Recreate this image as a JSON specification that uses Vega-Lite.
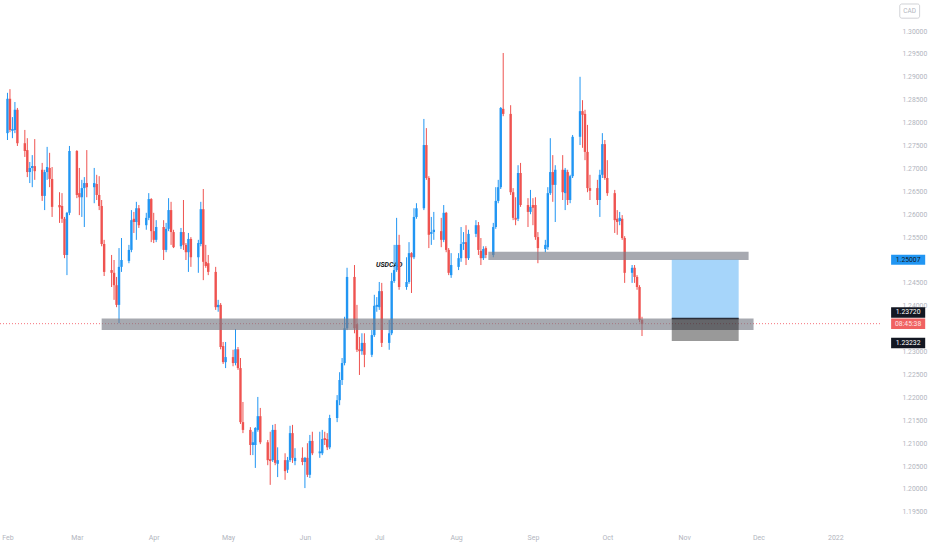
{
  "$schema": "https://vega.github.io/schema/vega-lite/v6.json",
  "description": "USDCAD daily candles, Feb-Oct 2021, with zones and a position box.",
  "width": 880,
  "height": 520,
  "autosize": {"type": "none"},
  "padding": {"left": 0, "top": 0, "right": 52, "bottom": 30},
  "background": "#ffffff",
  "config": {
    "view": {"stroke": null},
    "font": "Roboto",
    "axis": {"labelOverlap": false, "labelFlush": false, "labelBound": false}
  },
  "resolve": {"axis": {"x": "independent", "y": "independent"}},
  "datasets": {
    "candles": [
      {"d":"2021-02-01","o":1.2777,"h":1.2865,"l":1.2762,"c":1.2852},
      {"d":"2021-02-02","o":1.2852,"h":1.2873,"l":1.2779,"c":1.2784},
      {"d":"2021-02-03","o":1.2782,"h":1.2812,"l":1.2766,"c":1.2786},
      {"d":"2021-02-04","o":1.2784,"h":1.2845,"l":1.2777,"c":1.2828},
      {"d":"2021-02-05","o":1.2828,"h":1.2832,"l":1.2749,"c":1.2755},
      {"d":"2021-02-08","o":1.2755,"h":1.2784,"l":1.2725,"c":1.2738},
      {"d":"2021-02-09","o":1.2740,"h":1.2766,"l":1.2681,"c":1.2692},
      {"d":"2021-02-10","o":1.2692,"h":1.2714,"l":1.2668,"c":1.2701},
      {"d":"2021-02-11","o":1.2701,"h":1.2729,"l":1.2659,"c":1.2705},
      {"d":"2021-02-12","o":1.2705,"h":1.2764,"l":1.2675,"c":1.2694},
      {"d":"2021-02-15","o":1.2697,"h":1.2712,"l":1.2629,"c":1.2640},
      {"d":"2021-02-16","o":1.2640,"h":1.2697,"l":1.2609,"c":1.2692},
      {"d":"2021-02-17","o":1.2692,"h":1.2747,"l":1.2675,"c":1.2703},
      {"d":"2021-02-18","o":1.2701,"h":1.2734,"l":1.2659,"c":1.2677},
      {"d":"2021-02-19","o":1.2677,"h":1.2703,"l":1.2594,"c":1.2616},
      {"d":"2021-02-22","o":1.2620,"h":1.2648,"l":1.2581,"c":1.2615},
      {"d":"2021-02-23","o":1.2618,"h":1.2646,"l":1.2581,"c":1.2590},
      {"d":"2021-02-24","o":1.2590,"h":1.2594,"l":1.2504,"c":1.2511},
      {"d":"2021-02-25","o":1.2511,"h":1.2605,"l":1.2467,"c":1.2603},
      {"d":"2021-02-26","o":1.2603,"h":1.2749,"l":1.2598,"c":1.2738},
      {"d":"2021-03-01","o":1.2738,"h":1.2740,"l":1.2635,"c":1.2642},
      {"d":"2021-03-02","o":1.2646,"h":1.2701,"l":1.2598,"c":1.2637},
      {"d":"2021-03-03","o":1.2637,"h":1.2675,"l":1.2594,"c":1.2657},
      {"d":"2021-03-04","o":1.2657,"h":1.2681,"l":1.2572,"c":1.2668},
      {"d":"2021-03-05","o":1.2668,"h":1.2740,"l":1.2637,"c":1.2659},
      {"d":"2021-03-08","o":1.2659,"h":1.2701,"l":1.2624,"c":1.2668},
      {"d":"2021-03-09","o":1.2666,"h":1.2686,"l":1.2631,"c":1.2642},
      {"d":"2021-03-10","o":1.2642,"h":1.2683,"l":1.2609,"c":1.2618},
      {"d":"2021-03-11","o":1.2618,"h":1.2631,"l":1.2530,"c":1.2535},
      {"d":"2021-03-12","o":1.2535,"h":1.2544,"l":1.2465,"c":1.2474},
      {"d":"2021-03-15","o":1.2478,"h":1.2511,"l":1.2441,"c":1.2472},
      {"d":"2021-03-16","o":1.2472,"h":1.2500,"l":1.2413,"c":1.2445},
      {"d":"2021-03-17","o":1.2445,"h":1.2463,"l":1.2397,"c":1.2402},
      {"d":"2021-03-18","o":1.2402,"h":1.2526,"l":1.2362,"c":1.2485},
      {"d":"2021-03-19","o":1.2485,"h":1.2548,"l":1.2474,"c":1.2500},
      {"d":"2021-03-22","o":1.2498,"h":1.2533,"l":1.2493,"c":1.2522},
      {"d":"2021-03-23","o":1.2522,"h":1.2609,"l":1.2517,"c":1.2587},
      {"d":"2021-03-24","o":1.2590,"h":1.2605,"l":1.2559,"c":1.2583},
      {"d":"2021-03-25","o":1.2583,"h":1.2627,"l":1.2544,"c":1.2613},
      {"d":"2021-03-26","o":1.2613,"h":1.2620,"l":1.2570,"c":1.2576},
      {"d":"2021-03-29","o":1.2576,"h":1.2603,"l":1.2566,"c":1.2592},
      {"d":"2021-03-30","o":1.2592,"h":1.2646,"l":1.2587,"c":1.2633},
      {"d":"2021-03-31","o":1.2633,"h":1.2635,"l":1.2539,"c":1.2563},
      {"d":"2021-04-01","o":1.2563,"h":1.2603,"l":1.2537,"c":1.2544},
      {"d":"2021-04-02","o":1.2544,"h":1.2587,"l":1.2539,"c":1.2572},
      {"d":"2021-04-05","o":1.2572,"h":1.2587,"l":1.2500,"c":1.2522},
      {"d":"2021-04-06","o":1.2522,"h":1.2581,"l":1.2517,"c":1.2568},
      {"d":"2021-04-07","o":1.2568,"h":1.2635,"l":1.2563,"c":1.2609},
      {"d":"2021-04-08","o":1.2609,"h":1.2627,"l":1.2533,"c":1.2561},
      {"d":"2021-04-09","o":1.2561,"h":1.2566,"l":1.2526,"c":1.2528},
      {"d":"2021-04-12","o":1.2530,"h":1.2570,"l":1.2524,"c":1.2561},
      {"d":"2021-04-13","o":1.2561,"h":1.2631,"l":1.2522,"c":1.2533},
      {"d":"2021-04-14","o":1.2533,"h":1.2537,"l":1.2500,"c":1.2517},
      {"d":"2021-04-15","o":1.2517,"h":1.2559,"l":1.2474,"c":1.2546},
      {"d":"2021-04-16","o":1.2546,"h":1.2550,"l":1.2485,"c":1.2506},
      {"d":"2021-04-19","o":1.2506,"h":1.2544,"l":1.2472,"c":1.2537},
      {"d":"2021-04-20","o":1.2535,"h":1.2627,"l":1.2530,"c":1.2611},
      {"d":"2021-04-21","o":1.2611,"h":1.2655,"l":1.2456,"c":1.2496},
      {"d":"2021-04-22","o":1.2496,"h":1.2533,"l":1.2483,"c":1.2487},
      {"d":"2021-04-23","o":1.2493,"h":1.2511,"l":1.2467,"c":1.2474},
      {"d":"2021-04-26","o":1.2474,"h":1.2485,"l":1.2391,"c":1.2397},
      {"d":"2021-04-27","o":1.2397,"h":1.2413,"l":1.2387,"c":1.2402},
      {"d":"2021-04-28","o":1.2402,"h":1.2406,"l":1.2305,"c":1.2310},
      {"d":"2021-04-29","o":1.2312,"h":1.2321,"l":1.2273,"c":1.2277},
      {"d":"2021-04-30","o":1.2277,"h":1.2321,"l":1.2264,"c":1.2288},
      {"d":"2021-05-03","o":1.2288,"h":1.2304,"l":1.2268,"c":1.2275},
      {"d":"2021-05-04","o":1.2275,"h":1.2349,"l":1.2270,"c":1.2305},
      {"d":"2021-05-05","o":1.2305,"h":1.2310,"l":1.2260,"c":1.2264},
      {"d":"2021-05-06","o":1.2264,"h":1.2286,"l":1.2142,"c":1.2146},
      {"d":"2021-05-07","o":1.2146,"h":1.2190,"l":1.2122,"c":1.2129},
      {"d":"2021-05-10","o":1.2129,"h":1.2135,"l":1.2074,"c":1.2096},
      {"d":"2021-05-11","o":1.2096,"h":1.2125,"l":1.2074,"c":1.2102},
      {"d":"2021-05-12","o":1.2096,"h":1.2135,"l":1.2046,"c":1.2133},
      {"d":"2021-05-13","o":1.2129,"h":1.2201,"l":1.2125,"c":1.2159},
      {"d":"2021-05-14","o":1.2159,"h":1.2177,"l":1.2098,"c":1.2102},
      {"d":"2021-05-17","o":1.2102,"h":1.2107,"l":1.2052,"c":1.2063},
      {"d":"2021-05-18","o":1.2065,"h":1.2125,"l":1.2009,"c":1.2061},
      {"d":"2021-05-19","o":1.2063,"h":1.2140,"l":1.2059,"c":1.2129},
      {"d":"2021-05-20","o":1.2129,"h":1.2142,"l":1.2052,"c":1.2057},
      {"d":"2021-05-21","o":1.2055,"h":1.2091,"l":1.2026,"c":1.2063},
      {"d":"2021-05-24","o":1.2063,"h":1.2078,"l":1.2020,"c":1.2039},
      {"d":"2021-05-25","o":1.2042,"h":1.2070,"l":1.2035,"c":1.2063},
      {"d":"2021-05-26","o":1.2063,"h":1.2138,"l":1.2059,"c":1.2122},
      {"d":"2021-05-27","o":1.2122,"h":1.2140,"l":1.2057,"c":1.2068},
      {"d":"2021-05-28","o":1.2061,"h":1.2089,"l":1.2052,"c":1.2068},
      {"d":"2021-05-31","o":1.2068,"h":1.2091,"l":1.2052,"c":1.2059},
      {"d":"2021-06-01","o":1.2059,"h":1.2070,"l":1.2002,"c":1.2068},
      {"d":"2021-06-02","o":1.2068,"h":1.2100,"l":1.2026,"c":1.2031},
      {"d":"2021-06-03","o":1.2031,"h":1.2118,"l":1.2024,"c":1.2105},
      {"d":"2021-06-04","o":1.2105,"h":1.2125,"l":1.2074,"c":1.2078},
      {"d":"2021-06-07","o":1.2078,"h":1.2125,"l":1.2068,"c":1.2082},
      {"d":"2021-06-08","o":1.2078,"h":1.2129,"l":1.2074,"c":1.2109},
      {"d":"2021-06-09","o":1.2111,"h":1.2125,"l":1.2096,"c":1.2107},
      {"d":"2021-06-10","o":1.2109,"h":1.2122,"l":1.2085,"c":1.2091},
      {"d":"2021-06-11","o":1.2091,"h":1.2162,"l":1.2087,"c":1.2155},
      {"d":"2021-06-14","o":1.2155,"h":1.2205,"l":1.2146,"c":1.2194},
      {"d":"2021-06-15","o":1.2194,"h":1.2255,"l":1.2183,"c":1.2238},
      {"d":"2021-06-16","o":1.2238,"h":1.2286,"l":1.2227,"c":1.2275},
      {"d":"2021-06-17","o":1.2275,"h":1.2376,"l":1.2270,"c":1.2351},
      {"d":"2021-06-18","o":1.2351,"h":1.2483,"l":1.2347,"c":1.2463},
      {"d":"2021-06-21","o":1.2463,"h":1.2489,"l":1.2340,"c":1.2351},
      {"d":"2021-06-22","o":1.2360,"h":1.2402,"l":1.2299,"c":1.2304},
      {"d":"2021-06-23","o":1.2305,"h":1.2332,"l":1.2249,"c":1.2301},
      {"d":"2021-06-24","o":1.2301,"h":1.2340,"l":1.2293,"c":1.2319},
      {"d":"2021-06-25","o":1.2319,"h":1.2340,"l":1.2266,"c":1.2293},
      {"d":"2021-06-28","o":1.2293,"h":1.2347,"l":1.2288,"c":1.2336},
      {"d":"2021-06-29","o":1.2336,"h":1.2424,"l":1.2332,"c":1.2400},
      {"d":"2021-06-30","o":1.2398,"h":1.2419,"l":1.2387,"c":1.2402},
      {"d":"2021-07-01","o":1.2397,"h":1.2452,"l":1.2391,"c":1.2432},
      {"d":"2021-07-02","o":1.2432,"h":1.2450,"l":1.2310,"c":1.2319},
      {"d":"2021-07-05","o":1.2319,"h":1.2369,"l":1.2304,"c":1.2340},
      {"d":"2021-07-06","o":1.2340,"h":1.2472,"l":1.2336,"c":1.2454},
      {"d":"2021-07-07","o":1.2454,"h":1.2533,"l":1.2450,"c":1.2478},
      {"d":"2021-07-08","o":1.2478,"h":1.2592,"l":1.2474,"c":1.2533},
      {"d":"2021-07-09","o":1.2533,"h":1.2555,"l":1.2435,"c":1.2441},
      {"d":"2021-07-12","o":1.2441,"h":1.2506,"l":1.2435,"c":1.2452},
      {"d":"2021-07-13","o":1.2452,"h":1.2539,"l":1.2448,"c":1.2515},
      {"d":"2021-07-14","o":1.2515,"h":1.2517,"l":1.2428,"c":1.2506},
      {"d":"2021-07-15","o":1.2506,"h":1.2613,"l":1.2502,"c":1.2594},
      {"d":"2021-07-16","o":1.2594,"h":1.2624,"l":1.2590,"c":1.2613},
      {"d":"2021-07-19","o":1.2613,"h":1.2808,"l":1.2609,"c":1.2751},
      {"d":"2021-07-20","o":1.2751,"h":1.2788,"l":1.2675,"c":1.2679},
      {"d":"2021-07-21","o":1.2679,"h":1.2683,"l":1.2526,"c":1.2555},
      {"d":"2021-07-22","o":1.2557,"h":1.2594,"l":1.2533,"c":1.2561},
      {"d":"2021-07-23","o":1.2561,"h":1.2605,"l":1.2544,"c":1.2566},
      {"d":"2021-07-26","o":1.2563,"h":1.2592,"l":1.2528,"c":1.2544},
      {"d":"2021-07-27","o":1.2544,"h":1.2620,"l":1.2539,"c":1.2603},
      {"d":"2021-07-28","o":1.2603,"h":1.2605,"l":1.2517,"c":1.2522},
      {"d":"2021-07-29","o":1.2522,"h":1.2526,"l":1.2467,"c":1.2472},
      {"d":"2021-07-30","o":1.2467,"h":1.2515,"l":1.2461,"c":1.2489},
      {"d":"2021-08-02","o":1.2485,"h":1.2515,"l":1.2478,"c":1.2504},
      {"d":"2021-08-03","o":1.2504,"h":1.2572,"l":1.2496,"c":1.2535},
      {"d":"2021-08-04","o":1.2535,"h":1.2561,"l":1.2522,"c":1.2539},
      {"d":"2021-08-05","o":1.2539,"h":1.2576,"l":1.2489,"c":1.2504},
      {"d":"2021-08-06","o":1.2504,"h":1.2566,"l":1.2500,"c":1.2557},
      {"d":"2021-08-09","o":1.2557,"h":1.2587,"l":1.2550,"c":1.2576},
      {"d":"2021-08-10","o":1.2576,"h":1.2583,"l":1.2511,"c":1.2522},
      {"d":"2021-08-11","o":1.2520,"h":1.2548,"l":1.2489,"c":1.2504},
      {"d":"2021-08-12","o":1.2504,"h":1.2530,"l":1.2500,"c":1.2524},
      {"d":"2021-08-13","o":1.2526,"h":1.2530,"l":1.2504,"c":1.2511},
      {"d":"2021-08-16","o":1.2511,"h":1.2581,"l":1.2506,"c":1.2572},
      {"d":"2021-08-17","o":1.2572,"h":1.2659,"l":1.2568,"c":1.2629},
      {"d":"2021-08-18","o":1.2629,"h":1.2675,"l":1.2624,"c":1.2659},
      {"d":"2021-08-19","o":1.2659,"h":1.2834,"l":1.2655,"c":1.2832},
      {"d":"2021-08-20","o":1.2830,"h":1.2952,"l":1.2814,"c":1.2819},
      {"d":"2021-08-23","o":1.2819,"h":1.2838,"l":1.2642,"c":1.2648},
      {"d":"2021-08-24","o":1.2648,"h":1.2657,"l":1.2587,"c":1.2592},
      {"d":"2021-08-25","o":1.2592,"h":1.2637,"l":1.2576,"c":1.2588},
      {"d":"2021-08-26","o":1.2590,"h":1.2707,"l":1.2585,"c":1.2690},
      {"d":"2021-08-27","o":1.2690,"h":1.2712,"l":1.2616,"c":1.2620},
      {"d":"2021-08-30","o":1.2620,"h":1.2635,"l":1.2572,"c":1.2605},
      {"d":"2021-08-31","o":1.2605,"h":1.2653,"l":1.2600,"c":1.2616},
      {"d":"2021-09-01","o":1.2620,"h":1.2635,"l":1.2576,"c":1.2614},
      {"d":"2021-09-02","o":1.2620,"h":1.2637,"l":1.2544,"c":1.2550},
      {"d":"2021-09-03","o":1.2550,"h":1.2561,"l":1.2493,"c":1.2526},
      {"d":"2021-09-06","o":1.2524,"h":1.2544,"l":1.2517,"c":1.2533},
      {"d":"2021-09-07","o":1.2528,"h":1.2659,"l":1.2522,"c":1.2646},
      {"d":"2021-09-08","o":1.2646,"h":1.2766,"l":1.2642,"c":1.2692},
      {"d":"2021-09-09","o":1.2692,"h":1.2729,"l":1.2627,"c":1.2664},
      {"d":"2021-09-10","o":1.2664,"h":1.2707,"l":1.2583,"c":1.2697},
      {"d":"2021-09-13","o":1.2697,"h":1.2729,"l":1.2631,"c":1.2648},
      {"d":"2021-09-14","o":1.2646,"h":1.2701,"l":1.2609,"c":1.2697},
      {"d":"2021-09-15","o":1.2692,"h":1.2697,"l":1.2620,"c":1.2631},
      {"d":"2021-09-16","o":1.2631,"h":1.2686,"l":1.2624,"c":1.2683},
      {"d":"2021-09-17","o":1.2683,"h":1.2773,"l":1.2679,"c":1.2769},
      {"d":"2021-09-20","o":1.2769,"h":1.2900,"l":1.2751,"c":1.2825},
      {"d":"2021-09-21","o":1.2825,"h":1.2849,"l":1.2745,"c":1.2817},
      {"d":"2021-09-22","o":1.2819,"h":1.2828,"l":1.2718,"c":1.2736},
      {"d":"2021-09-23","o":1.2736,"h":1.2795,"l":1.2648,"c":1.2657},
      {"d":"2021-09-24","o":1.2657,"h":1.2686,"l":1.2631,"c":1.2651},
      {"d":"2021-09-27","o":1.2657,"h":1.2675,"l":1.2620,"c":1.2631},
      {"d":"2021-09-28","o":1.2631,"h":1.2697,"l":1.2594,"c":1.2686},
      {"d":"2021-09-29","o":1.2686,"h":1.2777,"l":1.2679,"c":1.2753},
      {"d":"2021-09-30","o":1.2753,"h":1.2762,"l":1.2675,"c":1.2679},
      {"d":"2021-10-01","o":1.2679,"h":1.2718,"l":1.2640,"c":1.2646},
      {"d":"2021-10-04","o":1.2646,"h":1.2653,"l":1.2559,"c":1.2587},
      {"d":"2021-10-05","o":1.2590,"h":1.2609,"l":1.2555,"c":1.2583},
      {"d":"2021-10-06","o":1.2585,"h":1.2605,"l":1.2576,"c":1.2592},
      {"d":"2021-10-07","o":1.2590,"h":1.2598,"l":1.2544,"c":1.2548},
      {"d":"2021-10-08","o":1.2548,"h":1.2552,"l":1.2450,"c":1.2472},
      {"d":"2021-10-11","o":1.2472,"h":1.2489,"l":1.2450,"c":1.2483},
      {"d":"2021-10-12","o":1.2483,"h":1.2489,"l":1.2450,"c":1.2463},
      {"d":"2021-10-13","o":1.2463,"h":1.2467,"l":1.2435,"c":1.2441},
      {"d":"2021-10-14","o":1.2441,"h":1.2445,"l":1.2364,"c":1.2369},
      {"d":"2021-10-15","o":1.2369,"h":1.2376,"l":1.2334,"c":1.2360}
    ],
    "zones": [
      {"start":"2021-03-11","end":"2021-11-29","low":1.2347,"high":1.2372},
      {"start":"2021-08-14","end":"2021-11-27","low":1.2500,"high":1.2518}
    ],
    "position": [
      {"start":"2021-10-27","end":"2021-11-23","entry":1.2372,"target":1.25007,"stop":1.23232}
    ]
  },
  "layer": [
    {
      "data": {"name":"candles"},
      "mark": {"type":"rule","strokeWidth":1},
      "encoding": {
        "x": {
          "field":"d","type":"temporal",
          "scale": {"type":"utc","domain":[{"year":2021,"month":1,"date":31,"utc":true},{"year":2022,"month":1,"date":17,"utc":true}]},
          "axis": {
            "title": null,
            "values": [
              {"year":2021,"month":2,"date":1,"utc":true},{"year":2021,"month":3,"date":1,"utc":true},
              {"year":2021,"month":4,"date":1,"utc":true},{"year":2021,"month":5,"date":1,"utc":true},
              {"year":2021,"month":6,"date":1,"utc":true},{"year":2021,"month":7,"date":1,"utc":true},
              {"year":2021,"month":8,"date":1,"utc":true},{"year":2021,"month":9,"date":1,"utc":true},
              {"year":2021,"month":10,"date":1,"utc":true},{"year":2021,"month":11,"date":1,"utc":true},
              {"year":2021,"month":12,"date":1,"utc":true},{"year":2022,"month":1,"date":1,"utc":true}
            ],
            "labelExpr": "utcFormat(datum.value, '%m') == '01' ? utcFormat(datum.value, '%Y') : utcFormat(datum.value, '%b')",
            "labelAlign": "center",
            "labelFlush": false,
            "labelBound": false,
            "labelOverlap": false,
            "labelFontSize": 7,
            "labelColor": "#b2b5be",
            "labelPadding": 13,
            "domain": false,
            "ticks": false,
            "grid": false
          }
        },
        "y": {
          "field":"l","type":"quantitative",
          "scale": {"domain":[1.19323,1.30677],"nice":false,"zero":false},
          "axis": {
            "title": null,
            "orient": "right",
            "values": [1.195,1.2,1.205,1.21,1.215,1.22,1.225,1.23,1.24,1.245,1.255,1.26,1.265,1.27,1.275,1.28,1.285,1.29,1.295,1.3],
            "format": ".5f",
            "labelOverlap": false,
            "labelFontSize": 6.8,
            "labelColor": "#b2b5be",
            "labelPadding": 22,
            "domain": false,
            "ticks": false,
            "grid": false
          }
        },
        "y2": {"field":"h"},
        "color": {"condition": {"test":"datum.c >= datum.o","value":"#2196f3"},"value":"#ef5350"}
      }
    },
    {
      "data": {"values": [{"d":"2021-07-05","price":1.2489,"label":"USDCAD"}]},
      "mark": {"type":"text","fontSize":7,"fontStyle":"italic","fontWeight":"bold","color":"#131722","align":"center","baseline":"middle"},
      "encoding": {
        "x": {"field":"d","type":"temporal","axis":null},
        "y": {"field":"price","type":"quantitative","axis":null},
        "text": {"field":"label"}
      }
    },
    {
      "data": {"values": [{"price":1.2361}]},
      "mark": {"type":"rule","color":"#f23645","strokeDash":[1,2],"strokeWidth":1,"opacity":0.7},
      "encoding": {
        "y": {"field":"price","type":"quantitative","axis":null}
      }
    },
    {
      "data": {"name":"candles"},
      "mark": {"type":"bar","size":2.4},
      "encoding": {
        "x": {"field":"d","type":"temporal","axis":null},
        "y": {"field":"o","type":"quantitative","axis":null},
        "y2": {"field":"c"},
        "color": {"condition": {"test":"datum.c >= datum.o","value":"#2196f3"},"value":"#ef5350"}
      }
    },
    {
      "data": {"name":"zones"},
      "mark": {"type":"rect","color":"#787b86","opacity":0.65},
      "encoding": {
        "x": {"field":"start","type":"temporal","axis":null},
        "x2": {"field":"end"},
        "y": {"field":"low","type":"quantitative","axis":null},
        "y2": {"field":"high"}
      }
    },
    {
      "data": {"name":"position"},
      "mark": {"type":"rect","color":"#2196f3","opacity":0.4},
      "encoding": {
        "x": {"field":"start","type":"temporal","axis":null},
        "x2": {"field":"end"},
        "y": {"field":"entry","type":"quantitative","axis":null},
        "y2": {"field":"target"}
      }
    },
    {
      "data": {"name":"position"},
      "mark": {"type":"rect","color":"#000000","opacity":0.4},
      "encoding": {
        "x": {"field":"start","type":"temporal","axis":null},
        "x2": {"field":"end"},
        "y": {"field":"stop","type":"quantitative","axis":null},
        "y2": {"field":"entry"}
      }
    },
    {
      "data": {"name":"position"},
      "mark": {"type":"rule","color":"#2a2e39","strokeWidth":1.5},
      "encoding": {
        "x": {"field":"start","type":"temporal","axis":null},
        "x2": {"field":"end"},
        "y": {"field":"entry","type":"quantitative","axis":null}
      }
    },
    {
      "data": {"values": [{"label":"1.25007","price":1.25007}]},
      "layer": [
        {
          "mark": {"type":"rule","color":"#2196f3","strokeWidth":10,"strokeCap":"butt"},
          "encoding": {
            "x": {"datum":{"year":2022,"month":1,"date":23,"hours":12,"utc":true},"type":"temporal","axis":null},
            "x2": {"datum":{"year":2022,"month":2,"date":6,"hours":6,"utc":true}},
            "y": {"field":"price","type":"quantitative","axis":null}
          }
        },
        {
          "mark": {"type":"text","color":"#131722","fontSize":6.8,"align":"center","baseline":"middle"},
          "encoding": {
            "x": {"datum":{"year":2022,"month":1,"date":30,"hours":9,"utc":true},"type":"temporal","axis":null},
            "y": {"field":"price","type":"quantitative","axis":null},
            "text": {"field":"label"}
          }
        }
      ]
    },
    {
      "data": {"values": [{"label":"1.23720","price":1.2372}]},
      "layer": [
        {
          "mark": {"type":"rule","color":"#131722","strokeWidth":10.5,"strokeCap":"butt","yOffset":-6.2},
          "encoding": {
            "x": {"datum":{"year":2022,"month":1,"date":23,"hours":12,"utc":true},"type":"temporal","axis":null},
            "x2": {"datum":{"year":2022,"month":2,"date":6,"hours":6,"utc":true}},
            "y": {"field":"price","type":"quantitative","axis":null}
          }
        },
        {
          "mark": {"type":"text","color":"#ffffff","fontSize":6.8,"align":"center","baseline":"middle","yOffset":-6.2},
          "encoding": {
            "x": {"datum":{"year":2022,"month":1,"date":30,"hours":9,"utc":true},"type":"temporal","axis":null},
            "y": {"field":"price","type":"quantitative","axis":null},
            "text": {"field":"label"}
          }
        }
      ]
    },
    {
      "data": {"values": [{"label":"08:45:38","price":1.2361}]},
      "layer": [
        {
          "mark": {"type":"rule","color":"#f06262","strokeWidth":10.5,"strokeCap":"butt"},
          "encoding": {
            "x": {"datum":{"year":2022,"month":1,"date":23,"hours":12,"utc":true},"type":"temporal","axis":null},
            "x2": {"datum":{"year":2022,"month":2,"date":6,"hours":6,"utc":true}},
            "y": {"field":"price","type":"quantitative","axis":null}
          }
        },
        {
          "mark": {"type":"text","color":"#fde3e3","fontSize":6.8,"align":"center","baseline":"middle"},
          "encoding": {
            "x": {"datum":{"year":2022,"month":1,"date":30,"hours":9,"utc":true},"type":"temporal","axis":null},
            "y": {"field":"price","type":"quantitative","axis":null},
            "text": {"field":"label"}
          }
        }
      ]
    },
    {
      "data": {"values": [{"label":"1.23232","price":1.23232}]},
      "layer": [
        {
          "mark": {"type":"rule","color":"#131722","strokeWidth":10.5,"strokeCap":"butt","yOffset":2},
          "encoding": {
            "x": {"datum":{"year":2022,"month":1,"date":23,"hours":12,"utc":true},"type":"temporal","axis":null},
            "x2": {"datum":{"year":2022,"month":2,"date":6,"hours":6,"utc":true}},
            "y": {"field":"price","type":"quantitative","axis":null}
          }
        },
        {
          "mark": {"type":"text","color":"#ffffff","fontSize":6.8,"align":"center","baseline":"middle","yOffset":2},
          "encoding": {
            "x": {"datum":{"year":2022,"month":1,"date":30,"hours":9,"utc":true},"type":"temporal","axis":null},
            "y": {"field":"price","type":"quantitative","axis":null},
            "text": {"field":"label"}
          }
        }
      ]
    },
    {
      "data": {"values": [{"label":"CAD","low":1.3028,"high":1.3059,"mid":1.3044}]},
      "layer": [
        {
          "mark": {"type":"rect","fill":null,"fillOpacity":0,"stroke":"#c5c7cc","strokeWidth":0.8,"cornerRadius":2},
          "encoding": {
            "x": {"datum":{"year":2022,"month":1,"date":27,"utc":true},"type":"temporal","axis":null},
            "x2": {"datum":{"year":2022,"month":2,"date":4,"utc":true}},
            "y": {"field":"low","type":"quantitative","axis":null},
            "y2": {"field":"high"}
          }
        },
        {
          "mark": {"type":"text","color":"#b2b5be","fontSize":6.5,"align":"center","baseline":"middle"},
          "encoding": {
            "x": {"datum":{"year":2022,"month":1,"date":31,"utc":true},"type":"temporal","axis":null},
            "y": {"field":"mid","type":"quantitative","axis":null},
            "text": {"field":"label"}
          }
        }
      ]
    }
  ]
}
